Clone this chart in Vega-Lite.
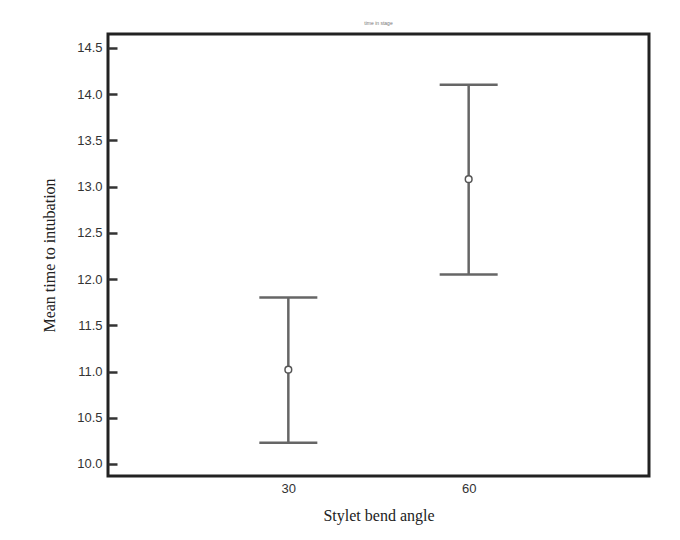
{
  "$schema": "https://vega.github.io/schema/vega-lite/v6.json",
  "autosize": {"type": "none"},
  "padding": {"left": 108, "top": 34, "right": 31, "bottom": 64},
  "width": 541,
  "height": 442,
  "background": "white",
  "title": {"text": "time in stage", "fontSize": 5, "color": "#777", "font": "Liberation Sans", "offset": 8, "fontWeight": "normal"},
  "data": {"values": [
    {"angle": "30", "mean": 11.02, "lower": 10.23, "upper": 11.80},
    {"angle": "60", "mean": 13.08, "lower": 12.05, "upper": 14.10}
  ]},
  "config": {
    "view": {"stroke": "#222", "strokeWidth": 3},
    "axis": {"grid": false, "domain": false, "labelFont": "Liberation Sans", "labelFontSize": 13, "labelColor": "#333", "titleFont": "Liberation Serif", "titleFontSize": 16, "titleFontWeight": "normal", "titleColor": "#222"}
  },
  "encoding": {
    "x": {"field": "angle", "type": "ordinal", "scale": {"type": "point", "padding": 1.05}, "axis": {"title": "Stylet bend angle", "labelAngle": 0, "ticks": false, "labelPadding": 6, "titlePadding": 12}}
  },
  "layer": [
    {
      "mark": {"type": "rule", "color": "#666", "strokeWidth": 2.5},
      "encoding": {
        "y": {"field": "lower", "type": "quantitative", "scale": {"domain": [9.87, 14.65], "nice": false, "zero": false}, "axis": {"title": "Mean time to intubation", "values": [10, 10.5, 11, 11.5, 12, 12.5, 13, 13.5, 14, 14.5], "format": ".1f", "tickSize": -9, "tickColor": "#333", "tickWidth": 2.5, "labelPadding": 15, "titlePadding": 19}},
        "y2": {"field": "upper"}
      }
    },
    {
      "mark": {"type": "tick", "color": "#666", "thickness": 2.5, "size": 58, "opacity": 1},
      "encoding": {"y": {"field": "lower", "type": "quantitative"}}
    },
    {
      "mark": {"type": "tick", "color": "#666", "thickness": 2.5, "size": 58, "opacity": 1},
      "encoding": {"y": {"field": "upper", "type": "quantitative"}}
    },
    {
      "mark": {"type": "point", "shape": "circle", "size": 45, "filled": true, "fill": "white", "stroke": "#555", "strokeWidth": 1.5, "opacity": 1},
      "encoding": {"y": {"field": "mean", "type": "quantitative"}}
    }
  ]
}
